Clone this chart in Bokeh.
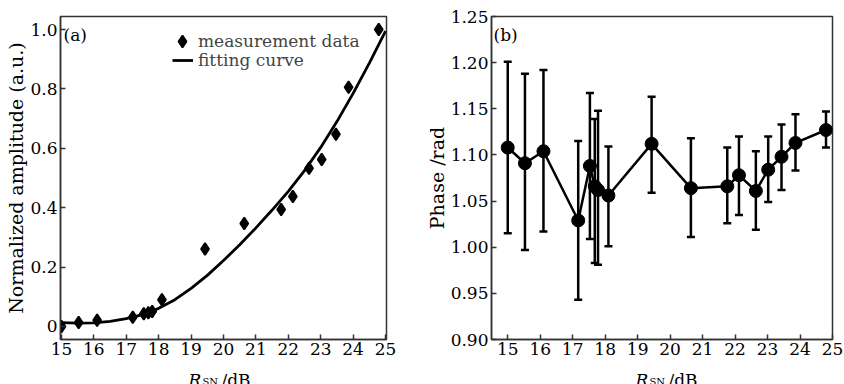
import numpy as np
from bokeh.plotting import figure
from bokeh.models import (ColumnDataSource, Label, Whisker, TeeHead, Legend,
                          LegendItem, FixedTicker, Range1d)
from bokeh.layouts import row, column
from bokeh.embed import file_html
from bokeh.resources import INLINE

# ---------------- data: panel (a) ----------------
meas_x = [15.0, 15.53, 16.1, 17.2, 17.54, 17.68, 17.8, 18.1, 19.43, 20.64,
          21.78, 22.14, 22.64, 23.03, 23.47, 23.86, 24.79]
meas_y = [0.0, 0.013, 0.021, 0.031, 0.043, 0.046, 0.050, 0.090, 0.261, 0.347,
          0.394, 0.438, 0.533, 0.562, 0.647, 0.806, 1.0]
fit_x = [15.0, 15.5, 16.0, 16.5, 17.0, 17.5, 18.0, 18.5, 19.0, 19.5, 20.0,
         20.5, 21.0, 21.5, 22.0, 22.5, 23.0, 23.5, 24.0, 24.5, 25.0]
fit_y = [0.013, 0.011, 0.012, 0.017, 0.026, 0.040, 0.061, 0.090, 0.128, 0.172,
         0.222, 0.275, 0.332, 0.392, 0.455, 0.525, 0.603, 0.690, 0.785, 0.887,
         0.995]

# ---------------- data: panel (b) ----------------
phase_x = [15.0, 15.53, 16.1, 17.17, 17.53, 17.68, 17.78, 18.1, 19.43, 20.64,
           21.76, 22.12, 22.64, 23.02, 23.43, 23.86, 24.8]
phase_y = [1.108, 1.091, 1.104, 1.029, 1.088, 1.066, 1.062, 1.056, 1.112, 1.064,
           1.066, 1.078, 1.061, 1.084, 1.098, 1.113, 1.127]
phase_hi = [1.201, 1.188, 1.192, 1.115, 1.167, 1.139, 1.148, 1.109, 1.163, 1.118,
            1.108, 1.120, 1.104, 1.120, 1.133, 1.144, 1.147]
phase_lo = [1.015, 0.997, 1.017, 0.943, 1.009, 0.983, 0.981, 1.001, 1.059, 1.011,
            1.026, 1.035, 1.019, 1.049, 1.062, 1.083, 1.108]

x_ticks = list(range(15, 26))
y_ticks_a = [0, 0.2, 0.4, 0.6, 0.8, 1.0]
y_labels_a = ["0", "0.2", "0.4", "0.6", "0.8", "1.0"]
y_ticks_b = [0.90, 0.95, 1.00, 1.05, 1.10, 1.15, 1.20, 1.25]
y_labels_b = ["0.90", "0.95", "1.00", "1.05", "1.10", "1.15", "1.20", "1.25"]

FONT = "DejaVu Serif"
TICK_FS = "17px"
LAB_FS = "19px"
FH = 323
TOP = 16
MAIN_H = 358
STRIP_H = 384 - MAIN_H


def make_fig(xr, yr, fw, left, right, yt, yl, ylabel):
    p = figure(frame_width=fw, frame_height=FH,
               x_range=Range1d(*xr), y_range=Range1d(*yr),
               output_backend="svg", toolbar_location=None,
               min_border_left=left, min_border_right=right,
               min_border_top=TOP, min_border_bottom=MAIN_H - TOP - FH)
    p.grid.visible = False
    p.background_fill_color = "white"
    p.border_fill_color = "white"
    p.outline_line_color = "#333333"
    p.outline_line_width = 1.5
    p.xaxis.ticker = FixedTicker(ticks=x_ticks)
    p.yaxis.ticker = FixedTicker(ticks=yt)
    p.yaxis.major_label_overrides = dict(zip(yt, yl))
    for ax in (p.xaxis[0], p.yaxis[0]):
        ax.axis_line_color = "#333333"
        ax.axis_line_width = 1.5
        ax.major_tick_in = 5
        ax.major_tick_out = 0
        ax.major_tick_line_color = "#333333"
        ax.major_tick_line_width = 1.5
        ax.minor_tick_line_color = None
        ax.major_label_text_font = FONT
        ax.major_label_text_font_size = TICK_FS
        ax.major_label_text_color = "black"
    p.xaxis.major_label_standoff = 3
    p.yaxis.major_label_standoff = 3
    p.yaxis.axis_label = ylabel
    p.yaxis.axis_label_text_font = FONT
    p.yaxis.axis_label_text_font_size = LAB_FS
    p.yaxis.axis_label_text_font_style = "normal"
    p.yaxis.axis_label_text_color = "black"
    p.yaxis.axis_label_standoff = 0
    return p


def make_strip(width):
    s = figure(width=width, height=STRIP_H, x_range=Range1d(0, width),
               y_range=Range1d(STRIP_H, 0), x_axis_type=None, y_axis_type=None,
               output_backend="svg", toolbar_location=None, min_border=0)
    s.grid.visible = False
    s.outline_line_color = None
    s.border_fill_color = "white"
    s.background_fill_color = "white"
    return s


def add_text(p, x, y, text, size, style="normal"):
    p.add_layout(Label(x=x, y=y, text=text, text_font=FONT,
                       text_font_size=size, text_align="left",
                       text_baseline="alphabetic", text_font_style=style,
                       text_color="black"))


def xlabel(strip, x0):
    # "R_SN /dB" with italic R and subscript SN; baseline at 379 px on the page
    base = 379 - MAIN_H
    add_text(strip, x0, base, "R", "17px", style="italic")
    add_text(strip, x0 + 14, base + 2, "SN", "10px")
    add_text(strip, x0 + 33, base, "/dB", "17px")


# ---------------- panel (a) ----------------
xr_a = (14.97, 25.03)
yr_a = (-0.044, 1.044)
pa = make_fig(xr_a, yr_a, 326, 60, 36, y_ticks_a, y_labels_a,
              "Normalized amplitude (a.u.)")

fit_r = pa.line(fit_x, fit_y, line_color="black", line_width=2.8)
meas_r = pa.scatter(meas_x, meas_y, marker="diamond", size=12,
                    fill_color="black", line_color="black", line_width=1.8)

leg1 = Legend(items=[LegendItem(label="measurement data", renderers=[meas_r])],
              location=(107, 283), padding=0, margin=0, spacing=0,
              glyph_width=30, glyph_height=30, label_height=30,
              label_standoff=1, border_line_alpha=0, background_fill_alpha=0,
              label_text_font=FONT, label_text_font_size="17px")
leg2 = Legend(items=[LegendItem(label="fitting curve", renderers=[fit_r])],
              location=(112, 269), padding=0, margin=0, spacing=0,
              glyph_width=21, glyph_height=18, label_height=18,
              label_standoff=5, border_line_alpha=0, background_fill_alpha=0,
              label_text_font=FONT, label_text_font_size="17px")
pa.add_layout(leg1)
pa.add_layout(leg2)
pa.add_layout(Label(x=xr_a[0], y=yr_a[1], x_offset=3, y_offset=-18,
                    text="(a)", text_font=FONT, text_font_size="17px",
                    text_baseline="middle", text_color="black"))

# ---------------- panel (b) ----------------
xr_b = (14.5, 25.0)
yr_b = (0.90, 1.25)
pb = make_fig(xr_b, yr_b, 341, 68, 13, y_ticks_b, y_labels_b, "Phase /rad")

src_b = ColumnDataSource(dict(x=phase_x, y=phase_y, hi=phase_hi, lo=phase_lo))
pb.add_layout(Whisker(source=src_b, base="x", upper="hi", lower="lo",
                      line_color="black", line_width=2.5,
                      upper_head=TeeHead(size=8, line_color="black", line_width=2.5),
                      lower_head=TeeHead(size=8, line_color="black", line_width=2.5)))
pb.line("x", "y", source=src_b, line_color="black", line_width=2.5)
pb.scatter("x", "y", source=src_b, marker="circle", size=13,
           fill_color="black", line_color="black")
pb.add_layout(Label(x=xr_b[0], y=yr_b[1], x_offset=2, y_offset=-18,
                    text="(b)", text_font=FONT, text_font_size="17px",
                    text_baseline="middle", text_color="black"))

# ---------------- x-axis label strips ----------------
sa = make_strip(422)
xlabel(sa, 188)
sb = make_strip(422)
xlabel(sb, 213)

layout = column(row(pa, pb), row(sa, sb))
open("out.html", "w").write(file_html(layout, INLINE))
